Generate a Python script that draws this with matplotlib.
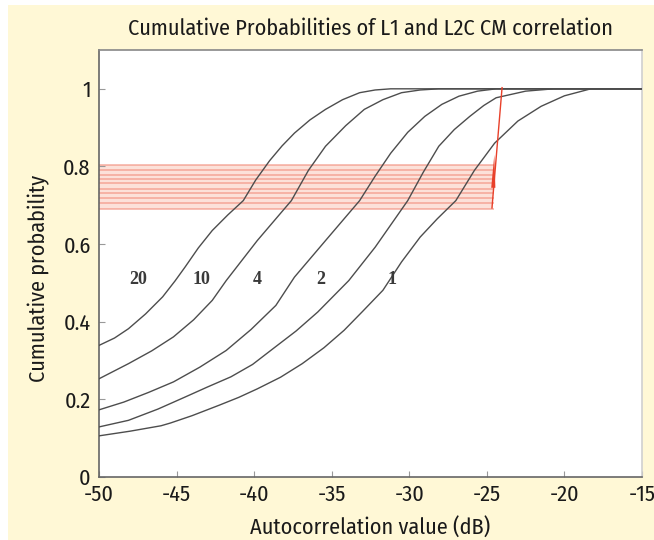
import matplotlib
matplotlib.use("Agg")
import matplotlib.pyplot as plt
from matplotlib.patches import Rectangle

plt.rcParams['font.family'] = ['Fira Sans Condensed', 'DejaVu Sans']
plt.rcParams['axes.unicode_minus'] = False

# curve data (number of averaged codes -> cdf)
x_1 = [-50, -48, -46, -45.4, -44, -42.25, -41, -39.8, -38.3, -36.9, -35.5, -34.2, -33, -31.7,
       -30.5, -29.3, -28.2, -27.0, -25.8, -24.5, -23.0, -21.5, -20.0, -18.3, -15]
y_1 = [0.106, 0.118, 0.132, 0.139, 0.158, 0.185, 0.205, 0.227, 0.257, 0.292, 0.333, 0.378, 0.427, 0.481,
       0.554, 0.618, 0.665, 0.712, 0.79, 0.860, 0.917, 0.955, 0.982, 1.0, 1.0]

x_2 = [-50, -48.1, -46.2, -44.45, -43, -41.5, -40.1, -38.8, -37.3, -35.9, -33.9, -32.2, -30.1,
       -29.1, -28.1, -27.1, -26.1, -25.2, -24.4, -22.5, -20.7, -15]
y_2 = [0.129, 0.146, 0.175, 0.206, 0.232, 0.258, 0.29, 0.330, 0.376, 0.425, 0.506, 0.592, 0.712,
       0.785, 0.852, 0.895, 0.929, 0.957, 0.977, 0.994, 1.0, 1.0]

x_4 = [-50, -48.4, -46.8, -45.2, -43.5, -41.8, -40.2, -38.6, -37.4, -35.4, -33.2, -32.2, -31.2,
       -30.1, -29.0, -27.9, -26.8, -25.6, -24.4, -15]
y_4 = [0.173, 0.193, 0.218, 0.245, 0.283, 0.326, 0.38, 0.442, 0.515, 0.609, 0.712, 0.775, 0.834,
       0.888, 0.929, 0.960, 0.981, 0.994, 1.0, 1.0]

x_10 = [-50, -48.1, -46.6, -45.2, -43.9, -42.7, -41.8, -39.8, -37.6, -36.5, -35.4, -34.1, -32.9,
        -31.7, -30.5, -29.3, -28.1, -15]
y_10 = [0.253, 0.292, 0.325, 0.361, 0.405, 0.455, 0.506, 0.609, 0.712, 0.79, 0.852, 0.905, 0.947,
        0.972, 0.990, 0.997, 1.0, 1.0]

x_20 = [-50, -49, -48.1, -47, -45.9, -45.1, -44.45, -43.6, -42.7, -41.7, -40.7, -39.9, -39.0,
        -38.2, -37.4, -36.4, -35.4, -34.3, -33.2, -32.2, -31.2, -15]
y_20 = [0.339, 0.358, 0.382, 0.42, 0.464, 0.505, 0.541, 0.59, 0.635, 0.675, 0.712, 0.765, 0.815,
        0.853, 0.886, 0.92, 0.947, 0.972, 0.990, 0.997, 1.0, 1.0]

curve_names = ['20', '10', '4', '2', '1']
label_x = [-47.5, -43.4, -39.8, -35.7, -31.1]
label_y = 0.51

# red band (horizontal lines) and red marker line
band_levels = [0.805, 0.792, 0.779, 0.768, 0.758, 0.743, 0.732, 0.719, 0.707, 0.691]
band_end = -24.6
red_x = [-24.67, -24.02]
red_y = [0.693, 1.003]

fig = plt.figure(figsize=(6.54, 5.4), dpi=100, facecolor='white')
fig.patches.append(Rectangle((8 / 654, 0), 1, 535 / 540, transform=fig.transFigure,
                             facecolor='#FFF8D6', edgecolor='none', zorder=-10))
ax = fig.add_axes([99 / 654, 1 - 477 / 540, (642 - 99) / 654, (477 - 50) / 540])
ax.set_facecolor('white')

# band
ax.fill_between([-50, band_end], min(band_levels), max(band_levels),
                color='#FCDCD3', alpha=0.85, lw=0, zorder=1)
for lv in band_levels:
    ax.plot([-50, band_end], [lv, lv], color='#F29383', lw=1.4, alpha=0.6, zorder=2)

# curves
for xs, ys in [(x_1, y_1), (x_2, y_2), (x_4, y_4), (x_10, y_10), (x_20, y_20)]:
    ax.plot(xs, ys, color='#4d4d4d', lw=1.0, zorder=3)

# red line + small wedge
ax.plot(red_x, red_y, color='#E8402A', lw=1.0, zorder=4)
ax.fill([-24.72, -24.45, -24.52], [0.745, 0.745, 0.83], color='#E8402A', lw=0, zorder=4)

for name, lx in zip(curve_names, label_x):
    ax.text(lx, label_y, name, family='Liberation Serif', fontsize=13, color='#3a3a3a',
            ha='center', va='center', fontweight='bold', zorder=5)

ax.set_xlim(-50, -15)
ax.set_ylim(0, 1.1)
ax.set_xticks([-50, -45, -40, -35, -30, -25, -20, -15])
ax.set_yticks([0, 0.2, 0.4, 0.6, 0.8, 1])
ax.set_yticklabels(['0', '0.2', '0.4', '0.6', '0.8', '1'])
ax.tick_params(direction='in', length=4, color='#999999', labelsize=16, labelcolor='#1a1a1a')
ax.tick_params(axis='y', pad=6)
ax.tick_params(axis='x', pad=5)

ax.spines['left'].set_color('#666666')
ax.spines['bottom'].set_color('#666666')
ax.spines['top'].set_color('#888888')
ax.spines['right'].set_color('#d0d0d0')
for s in ax.spines.values():
    s.set_linewidth(1.2)

ax.set_title('Cumulative Probabilities of L1 and L2C CM correlation', fontsize=16, color='#1a1a1a', pad=11)
ax.set_xlabel('Autocorrelation value (dB)', fontsize=16, color='#1a1a1a')
ax.set_ylabel('Cumulative probability', fontsize=16, color='#1a1a1a')
ax.xaxis.set_label_coords(0.5, -0.095)
ax.yaxis.set_label_coords(-0.09, 0.465)

fig.savefig('out.png', dpi=100, facecolor=fig.get_facecolor())
